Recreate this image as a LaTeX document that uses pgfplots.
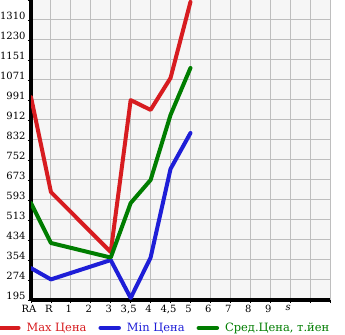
\documentclass[border=0pt]{standalone}
\usepackage{pgfplots}
\pgfplotsset{compat=1.18}
\usepackage{fontspec}
\setmainfont{DejaVu Serif}
\definecolor{cred}{RGB}{215,28,32}
\definecolor{cblue}{RGB}{30,30,215}
\definecolor{cgreen}{RGB}{0,125,0}
\definecolor{bgc}{RGB}{246,246,246}
\definecolor{gridc}{RGB}{190,190,190}
\begin{document}
\begin{tikzpicture}
\begin{axis}[
  at={(0,0)}, anchor=south west,
  scale only axis, width=299bp, height=300bp,
  xmin=0, xmax=15, ymin=195, ymax=1389.6,
  axis x line*=bottom, axis y line*=left,
  axis line style={-, line width=3bp, black},
  axis background/.style={fill=bgc},
  xtick={0,1,...,15},
  xticklabels={RA,R,1,2,3,{3,5},4,{4,5},5,6,7,8,9,\textit{s},{}},
  ytick={195,274.64,354.28,433.92,513.56,593.2,672.84,752.48,832.12,911.76,991.4,1071.04,1150.68,1230.32,1309.96,1389.6},
  yticklabels={195,274,354,434,513,593,673,752,832,912,991,1071,1151,1230,1310,{}},
  grid=major, grid style={gridc, line width=1bp},
  tick align=outside, major tick length=3bp,
  tick style={black, line width=0.8bp},
  /pgf/number format/assume math mode=true,
  xticklabel style={font=\fontsize{10}{11}\selectfont, xshift=-2bp, yshift=1bp},
  yticklabel style={font=\fontsize{10}{11}\selectfont, yshift=4bp, xshift=1bp},
  legend columns=3,
  legend style={at={(0.447,-0.093)}, anchor=center, draw=none, fill=none,
    font=\fontsize{11.5}{12}\selectfont, column sep=4bp,
    /tikz/every even column/.append style={column sep=10bp}},
  legend image code/.code={\draw[#1, line width=4.5bp, line cap=round] (0bp,0bp) -- (18bp,0bp);},
  every axis plot/.append style={line width=4bp, line join=round, line cap=round, mark=none},
]
\addplot[cred] coordinates {(0,1003) (1,625) (4,386) (5,991) (6,952) (7,1079) (8,1382)};
\addlegendentry{\textcolor{cred}{Max Цена}}
\addplot[cblue] coordinates {(0,322) (1,277) (4,354) (5,203) (6,364) (7,717) (8,860)};
\addlegendentry{\textcolor{cblue}{Min Цена}}
\addplot[cgreen] coordinates {(0,581) (1,422) (4,364) (5,581) (6,673) (7,932) (8,1119)};
\addlegendentry{\textcolor{cgreen}{Сред.Цена, т.йен}}
\end{axis}
\pgfresetboundingbox
\path (-31bp,-35bp) rectangle (314bp,300bp);
\end{tikzpicture}
\end{document}
